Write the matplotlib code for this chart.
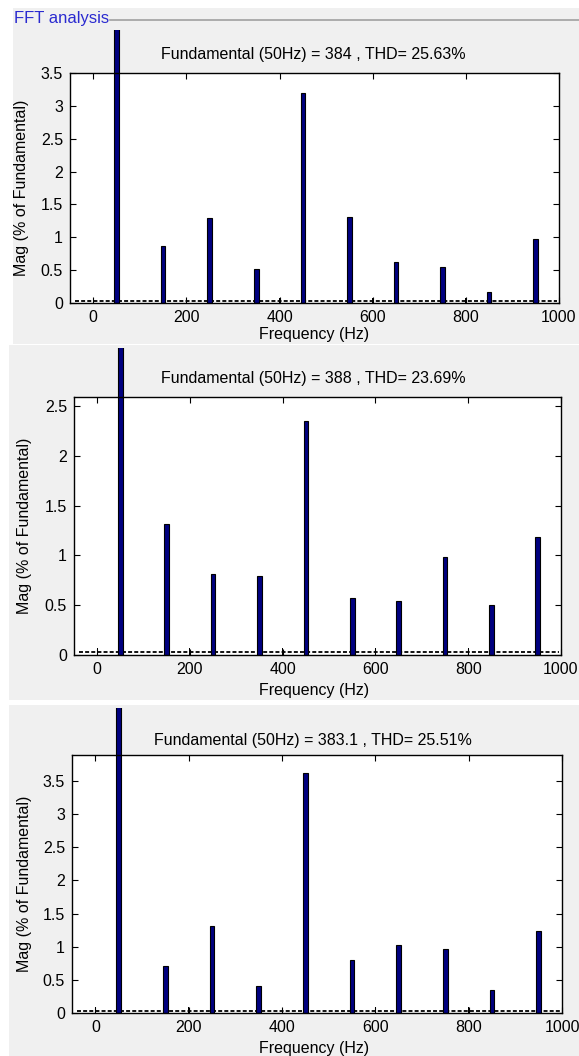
import matplotlib
matplotlib.use("Agg")
import matplotlib.pyplot as plt
from matplotlib.patches import Rectangle
import numpy as np

plt.rcParams['font.family'] = ['Liberation Sans', 'DejaVu Sans']

W, H = 579, 1056
DPI = 100

# ---- data ----
harm_freqs = [50, 150, 250, 350, 450, 550, 650, 750, 850, 950]
even_freqs = [0, 200, 400, 600, 800]

mag1 = [100, 0.86, 1.30, 0.52, 3.20, 1.31, 0.62, 0.55, 0.16, 0.98]
mag2 = [100, 1.32, 0.81, 0.79, 2.35, 0.57, 0.54, 0.98, 0.50, 1.18]
mag3 = [100, 0.71, 1.31, 0.40, 3.62, 0.80, 1.03, 0.97, 0.34, 1.24]
even1 = [0.07, 0.07, 0.07, 0.07, 0.07]
even2 = [0.07, 0.07, 0.07, 0.07, 0.07]
even3 = [0.09, 0.09, 0.09, 0.09, 0.09]

titles = ["Fundamental (50Hz) = 384 , THD= 25.63%",
          "Fundamental (50Hz) = 388 , THD= 23.69%",
          "Fundamental (50Hz) = 383.1 , THD= 25.51%"]
yticks1 = [0, 0.5, 1, 1.5, 2, 2.5, 3, 3.5]
yticks2 = [0, 0.5, 1, 1.5, 2, 2.5]
yticks3 = [0, 0.5, 1, 1.5, 2, 2.5, 3, 3.5]
ylims = [3.5, 2.59, 3.89]
xticks = [0, 200, 400, 600, 800, 1000]
baseline = 0.03

fig = plt.figure(figsize=(W / DPI, H / DPI), dpi=DPI)
fig.patch.set_facecolor('white')

def px_rect(x0, y0, x1, y1):
    return [x0 / W, 1 - y1 / H, (x1 - x0) / W, (y1 - y0) / H]

GRAY = '#f0f0f0'
FS = 11.5
# panel backgrounds
for (x0, y0, x1, y1) in [(13, 8, 579, 344), (9, 345, 579, 700), (9, 705, 579, 1056)]:
    r = px_rect(x0, y0, x1, y1)
    fig.patches.append(Rectangle((r[0], r[1]), r[2], r[3], transform=fig.transFigure,
                                 facecolor=GRAY, edgecolor='none', zorder=-5))

# FFT analysis header
fig.text(14 / W, 1 - 19 / H, "FFT analysis", color='#2a2ad0', fontsize=12,
         va='center', ha='left', zorder=1)
fig.lines.append(plt.Line2D([110 / W, 1.0], [1 - 20 / H, 1 - 20 / H],
                            transform=fig.transFigure, color='#a0a0a0', lw=1.2,
                            zorder=1))

panels = [
    dict(ax=(70, 73, 559, 303), clip_top=30, mag=mag1, even=even1, yt=yticks1,
         ylab_x=22, xlab_y=335, title_y=55),
    dict(ax=(74, 397, 561, 655), clip_top=348, mag=mag2, even=even2, yt=yticks2,
         ylab_x=25, xlab_y=690, title_y=378),
    dict(ax=(72, 755, 562, 1013), clip_top=708, mag=mag3, even=even3, yt=yticks3,
         ylab_x=25, xlab_y=1048, title_y=740),
]

for i, p in enumerate(panels):
    x0, y0, x1, y1 = p['ax']
    ax = fig.add_axes(px_rect(x0, y0, x1, y1))
    ax.set_zorder(2)
    ax.set_facecolor('white')
    ax.set_xlim(-50, 1000)
    ax.set_ylim(0, ylims[i])
    bars = ax.bar(harm_freqs, p['mag'], width=10, color='#000080',
                  edgecolor='black', linewidth=0.8, zorder=3)
    # fundamental bar extends above the axes (clipped at the panel)
    cr = px_rect(0, p['clip_top'], W, y1)
    clip = Rectangle((cr[0], cr[1]), cr[2], cr[3], transform=fig.transFigure)
    bars[0].set_clip_on(True)
    bars[0].set_clip_path(clip)
    ax.bar(even_freqs, p['even'], width=2, color='black', zorder=2)
    ax.plot([-40, 995], [baseline, baseline], color='black', lw=1.3,
            linestyle=(0, (2.2, 1.2)), zorder=2)
    ax.set_xticks(xticks)
    ax.set_yticks(p['yt'])
    ax.set_yticklabels([('%g' % v) for v in p['yt']])
    ax.tick_params(direction='in', length=4, width=0.8, top=True, right=True,
                   labelsize=FS, pad=5, colors='black')
    for s in ax.spines.values():
        s.set_linewidth(1.0)
        s.set_zorder(5)
    fig.text(313 / W, 1 - p['title_y'] / H, titles[i],
             ha='center', va='center', fontsize=FS, zorder=1)
    fig.text(314 / W, 1 - p['xlab_y'] / H, "Frequency (Hz)",
             ha='center', va='center', fontsize=FS, zorder=1)
    fig.text(p['ylab_x'] / W, 1 - ((y0 + y1) / 2) / H, "Mag (% of Fundamental)",
             ha='center', va='center', rotation=90, fontsize=FS, zorder=1)

fig.savefig('out.png', dpi=DPI, facecolor='white')
